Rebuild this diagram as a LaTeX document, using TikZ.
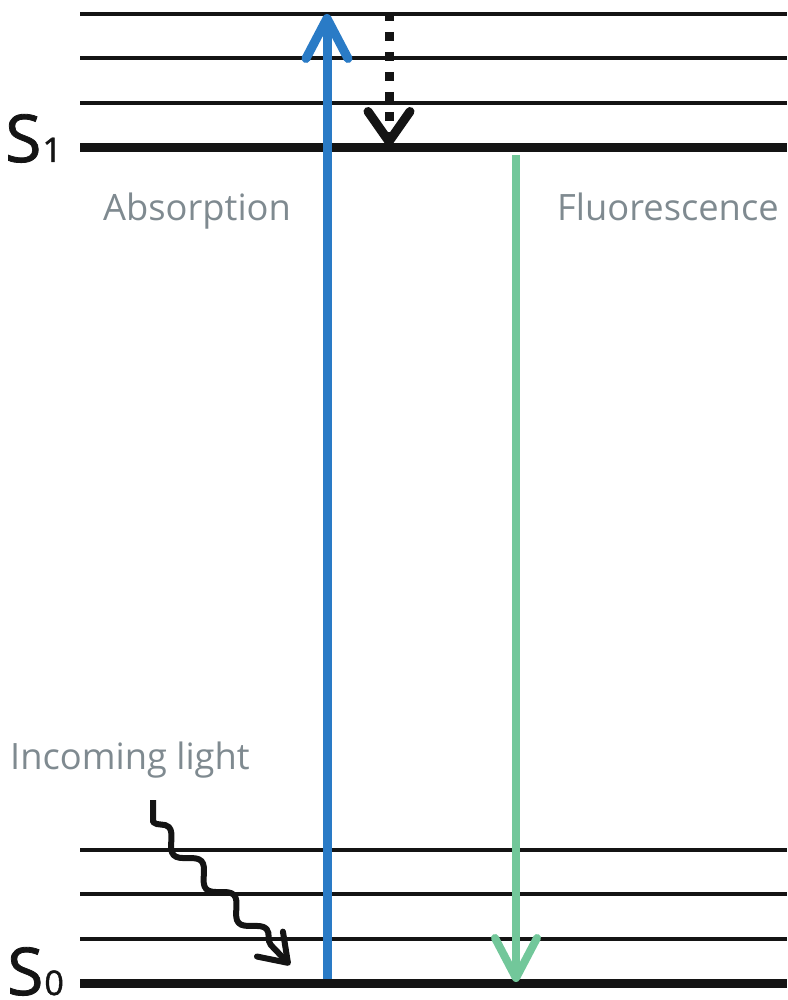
\documentclass[tikz,border=0pt]{standalone}
\usepackage{fontspec}
\setmainfont{Open Sans}
\newfontfamily\statefont{Open Sans}[FakeBold=1.2]
\usetikzlibrary{arrows.meta,decorations.pathmorphing}
\definecolor{absblue}{HTML}{2A7BC6}
\definecolor{flgreen}{HTML}{72C79A}
\definecolor{labelgray}{HTML}{7F8A90}
\definecolor{lvl}{HTML}{141414}
\begin{document}
\begin{tikzpicture}[x=1pt,y=-1pt,
  thinlevel/.style={line width=3.2pt,draw=lvl},
  mainlevel/.style={line width=9pt,draw=lvl},
  lbl/.style={text=labelgray,font=\fontsize{36.3}{42}\selectfont,inner sep=0pt,anchor=base west},
  statelbl/.style={text=lvl,inner sep=0pt,anchor=base west,font=\statefont},
  chev/.style={-{Straight Barb[length=40pt,width=42pt,round]}},
]
\useasboundingbox (0,0) rectangle (787,1000);

% energy levels
\foreach \y/\n in {14/a,58/b,103/c,850/d,894/e,939/f}{
  \coordinate (L\n) at (80,\y); \coordinate (R\n) at (787,\y);
  \draw[thinlevel] (L\n) -- (R\n);
}
\coordinate (S1l) at (80,148); \coordinate (S1r) at (787,148);
\coordinate (S0l) at (80,983); \coordinate (S0r) at (787,983);
\draw[mainlevel] (S1l) -- (S1r);
\draw[mainlevel] (S0l) -- (S0r);

% state labels
\node[statelbl] (s1) at (5,162) {{\fontsize{66}{66}\selectfont S}\kern1pt{\fontsize{34}{34}\selectfont 1}};
\node[statelbl] (s0) at (7,995) {{\fontsize{66}{66}\selectfont S}\kern1pt{\fontsize{34}{34}\selectfont 0}};

% text labels
\node[lbl] (abs) at (103,221) {Absorption};
\node[lbl] (fl) at (557,221) {Fluorescence};
\node[lbl] (inc) at (10,769) {Incoming light};

% absorption arrow
\coordinate (absS) at (327,979);
\coordinate (absE) at (327,14);
\draw[chev, absblue, line width=9pt] (absS) -- (absE);

% vibrational relaxation (dotted)
\coordinate (vrS) at (389,12);
\coordinate (vrE) at (389,146);
\draw[-{Straight Barb[length=30pt,width=42pt,round]}, lvl, line width=9pt, dash pattern=on 9pt off 11pt] (vrS) -- (vrE);

% fluorescence arrow
\coordinate (flS) at (516,155);
\coordinate (flE) at (516,982);
\draw[chev, flgreen, line width=8pt] (flS) -- (flE);

% incoming light (wavy)
\coordinate (w0) at (153,800);
\coordinate (w1) at (153,822);
\coordinate (w2) at (290,965);
\draw[-{Straight Barb[length=26pt,width=36pt,round]}, lvl, line width=6pt, line join=round,
  decorate, decoration={snake, segment length=47pt, amplitude=8pt, pre length=22pt, post length=16pt}]
  (w0) -- (w1) -- (w2);
\end{tikzpicture}
\end{document}
